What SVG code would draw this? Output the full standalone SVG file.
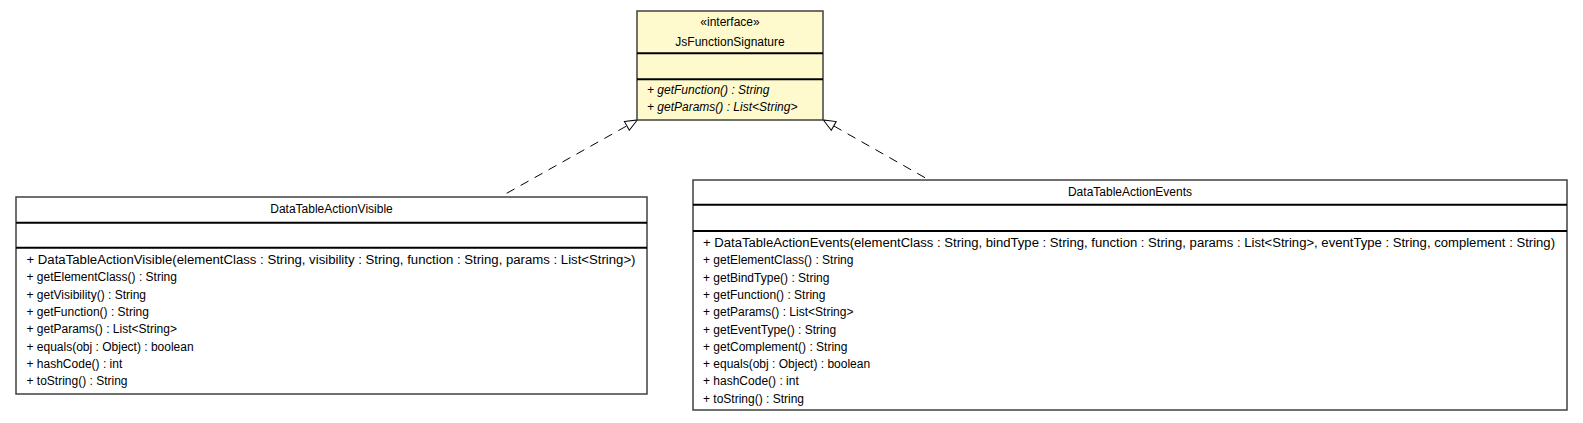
<svg xmlns="http://www.w3.org/2000/svg" width="1583" height="423" viewBox="0 0 1583 423">
<style>
.box{stroke:#404040;stroke-width:1.5}
.sep{stroke:#000;stroke-width:2}
text{font-family:"Liberation Sans",Arial,sans-serif;font-size:12px;fill:#000}
.c{text-anchor:middle}
.i{font-style:italic}
.dash{fill:none;stroke:#000;stroke-width:1;stroke-dasharray:9,7}
</style>
<defs>
<marker id="real" viewBox="0 0 14 12" refX="13" refY="6" markerWidth="14" markerHeight="12" markerUnits="userSpaceOnUse" orient="auto">
<path d="M1,1 L13,6 L1,11 Z" fill="#fff" stroke="#000" stroke-width="1"/>
</marker>
</defs>
<rect width="1583" height="423" fill="#fff"/>
<g id="connectors">
<path class="dash" d="M506.7,193.3 L637.3,120" marker-end="url(#real)"/>
<path class="dash" d="M925,177.7 L823.3,120" marker-end="url(#real)"/>
</g>
<g id="JsFunctionSignature">
<rect class="box" x="637" y="11" width="186" height="109" fill="#FFFACD"/>
<line class="sep" x1="637" y1="53.3" x2="823" y2="53.3"/>
<line class="sep" x1="637" y1="79.3" x2="823" y2="79.3"/>
<text class="c" x="730" y="26" font-size="11">«interface»</text>
<text class="c" x="730" y="46">JsFunctionSignature</text>
<text class="i" x="647" y="94">+ getFunction() : String</text>
<text class="i" x="647" y="111.3">+ getParams() : List&lt;String&gt;</text>
</g>
<g id="DataTableActionVisible">
<rect class="box" x="16" y="197" width="631" height="197" fill="#fff"/>
<line class="sep" x1="16" y1="222.7" x2="647" y2="222.7"/>
<line class="sep" x1="16" y1="247.7" x2="647" y2="247.7"/>
<text class="c" x="331.5" y="212.5">DataTableActionVisible</text>
<text x="26.5" y="264" textLength="609" lengthAdjust="spacingAndGlyphs">+ DataTableActionVisible(elementClass : String, visibility : String, function : String, params : List&lt;String&gt;)</text>
<text x="26.5" y="281.3">+ getElementClass() : String</text>
<text x="26.5" y="298.6">+ getVisibility() : String</text>
<text x="26.5" y="315.9">+ getFunction() : String</text>
<text x="26.5" y="333.2">+ getParams() : List&lt;String&gt;</text>
<text x="26.5" y="350.5">+ equals(obj : Object) : boolean</text>
<text x="26.5" y="367.8">+ hashCode() : int</text>
<text x="26.5" y="385.1">+ toString() : String</text>
</g>
<g id="DataTableActionEvents">
<rect class="box" x="693" y="180" width="874" height="230" fill="#fff"/>
<line class="sep" x1="693" y1="204.7" x2="1567" y2="204.7"/>
<line class="sep" x1="693" y1="231" x2="1567" y2="231"/>
<text class="c" x="1130" y="196">DataTableActionEvents</text>
<text x="703" y="247" textLength="852" lengthAdjust="spacingAndGlyphs">+ DataTableActionEvents(elementClass : String, bindType : String, function : String, params : List&lt;String&gt;, eventType : String, complement : String)</text>
<text x="703" y="264.3">+ getElementClass() : String</text>
<text x="703" y="281.6">+ getBindType() : String</text>
<text x="703" y="298.9">+ getFunction() : String</text>
<text x="703" y="316.2">+ getParams() : List&lt;String&gt;</text>
<text x="703" y="333.5">+ getEventType() : String</text>
<text x="703" y="350.8">+ getComplement() : String</text>
<text x="703" y="368.1">+ equals(obj : Object) : boolean</text>
<text x="703" y="385.4">+ hashCode() : int</text>
<text x="703" y="402.7">+ toString() : String</text>
</g>
</svg>
